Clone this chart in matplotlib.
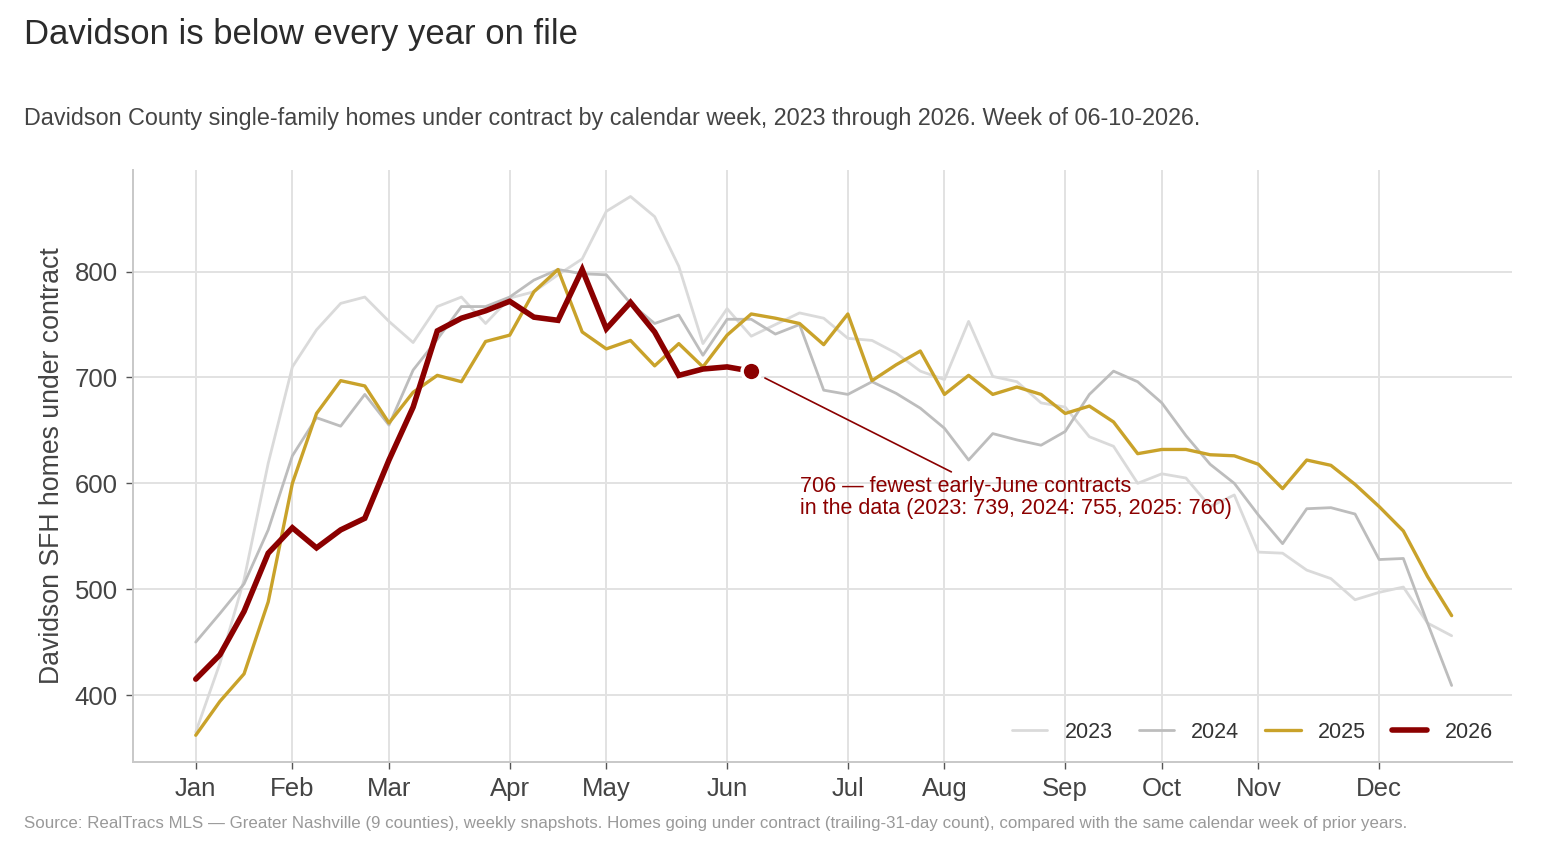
import numpy as np
import matplotlib
matplotlib.use("Agg")
import matplotlib.pyplot as plt

plt.rcParams['font.family'] = ['Liberation Sans', 'DejaVu Sans']

# week index within the calendar year (0 = first week of Jan)
weeks = np.arange(53)

y2023 = [365, 430, 509, 619, 710, 745, 770, 776, 753, 733, 767, 776, 751, 775, 781,
         797, 812, 857, 871, 852, 805, 732, 765, 739, 750, 761, 756, 737, 735, 723,
         706, 698, 753, 701, 696, 676, 672, 644, 635, 600, 609, 605, 578, 589, 535,
         534, 518, 510, 490, 497, 502, 468, 456]
y2024 = [450, 477, 505, 556, 626, 662, 654, 684, 655, 707, 736, 767, 767, 776, 792,
         802, 798, 797, 770, 751, 759, 721, 755, 755, 741, 750, 688, 684, 696, 685,
         671, 652, 622, 647, 641, 636, 649, 684, 706, 696, 676, 645, 618, 600, 570,
         543, 576, 577, 571, 528, 529, 468, 409]
y2025 = [362, 394, 420, 488, 600, 666, 697, 692, 657, 686, 702, 696, 734, 740, 781,
         802, 743, 727, 735, 711, 732, 710, 740, 760, 756, 751, 731, 760, 697, 712,
         725, 684, 702, 684, 691, 684, 666, 673, 658, 628, 632, 632, 627, 626, 618,
         595, 622, 617, 599, 578, 555, 512, 475]
y2026 = [415, 438, 479, 534, 558, 539, 556, 567, 622, 672, 744, 756, 763, 772, 757,
         754, 802, 746, 771, 743, 702, 708, 710, 706]

month_weeks = [0, 4, 8, 13, 17, 22, 27, 31, 36, 40, 44, 49]
month_labels = ['Jan', 'Feb', 'Mar', 'Apr', 'May', 'Jun', 'Jul', 'Aug', 'Sep', 'Oct', 'Nov', 'Dec']
y_ticks = [400, 500, 600, 700, 800]

c23 = '#dadada'
c24 = '#bdbdbd'
c25 = '#c9a22a'
c26 = '#8b0000'

fig = plt.figure(figsize=(15.68, 8.48), dpi=100)
ax = fig.add_axes([0.0848, 0.1014, 0.8795, 0.6981])

ax.plot(weeks, y2023, color=c23, lw=2.0, label='2023', solid_capstyle='round')
ax.plot(weeks, y2024, color=c24, lw=2.0, label='2024', solid_capstyle='round')
ax.plot(weeks, y2025, color=c25, lw=2.4, label='2025', solid_capstyle='round')
w26 = weeks[:len(y2026)]
ax.plot(w26, y2026, color=c26, lw=4.0, label='2026', solid_capstyle='round',
        solid_joinstyle='miter')
ax.plot(w26[-1], y2026[-1], 'o', color=c26, ms=13.5, mec='white', mew=2.5, zorder=5)

ax.annotate('706 — fewest early-June contracts\nin the data (2023: 739, 2024: 755, 2025: 760)',
            xy=(w26[-1], y2026[-1]), xytext=(25.0, 607), textcoords='data',
            ha='left', va='top', color=c26, fontsize=15.5, linespacing=1.08,
            arrowprops=dict(arrowstyle='-', color=c26, lw=1.2, shrinkA=2, shrinkB=11,
                            relpos=(0.37, 1.0)))

ax.set_xlim(-2.6, 54.5)
ax.set_ylim(336.7, 896)
ax.set_xticks(month_weeks)
ax.set_xticklabels(month_labels)
ax.set_yticks(y_ticks)
ax.grid(True, color='#e2e2e2', lw=1.4)
ax.set_axisbelow(True)
for s in ['top', 'right']:
    ax.spines[s].set_visible(False)
for s in ['left', 'bottom']:
    ax.spines[s].set_color('#c8c8c8')
    ax.spines[s].set_linewidth(1.4)
ax.tick_params(axis='both', colors='#555555', length=5, width=1, labelsize=18.5,
               labelcolor='#444444', pad=6)
ax.set_ylabel('Davidson SFH homes under contract', fontsize=19.2, color='#444444', labelpad=7)

leg = ax.legend(loc='lower right', ncol=4, frameon=False, fontsize=15.5,
                handlelength=1.65, columnspacing=1.2, handletextpad=0.8,
                bbox_to_anchor=(1.0, 0.0))
for t in leg.get_texts():
    t.set_color('#333333')

fig.text(0.0153, 0.959, 'Davidson is below every year on file', fontsize=24.9,
         color='#2b2b2b', va='center', ha='left')
fig.text(0.0153, 0.860, 'Davidson County single-family homes under contract by calendar week, '
         '2023 through 2026. Week of 06-10-2026.', fontsize=16.8, color='#444444',
         va='center', ha='left')
fig.text(0.0153, 0.029, 'Source: RealTracs MLS — Greater Nashville (9 counties), weekly snapshots. '
         'Homes going under contract (trailing-31-day count), compared with the same calendar '
         'week of prior years.', fontsize=12.2, color='#999999', va='center', ha='left')

fig.savefig('out.png', dpi=100)
